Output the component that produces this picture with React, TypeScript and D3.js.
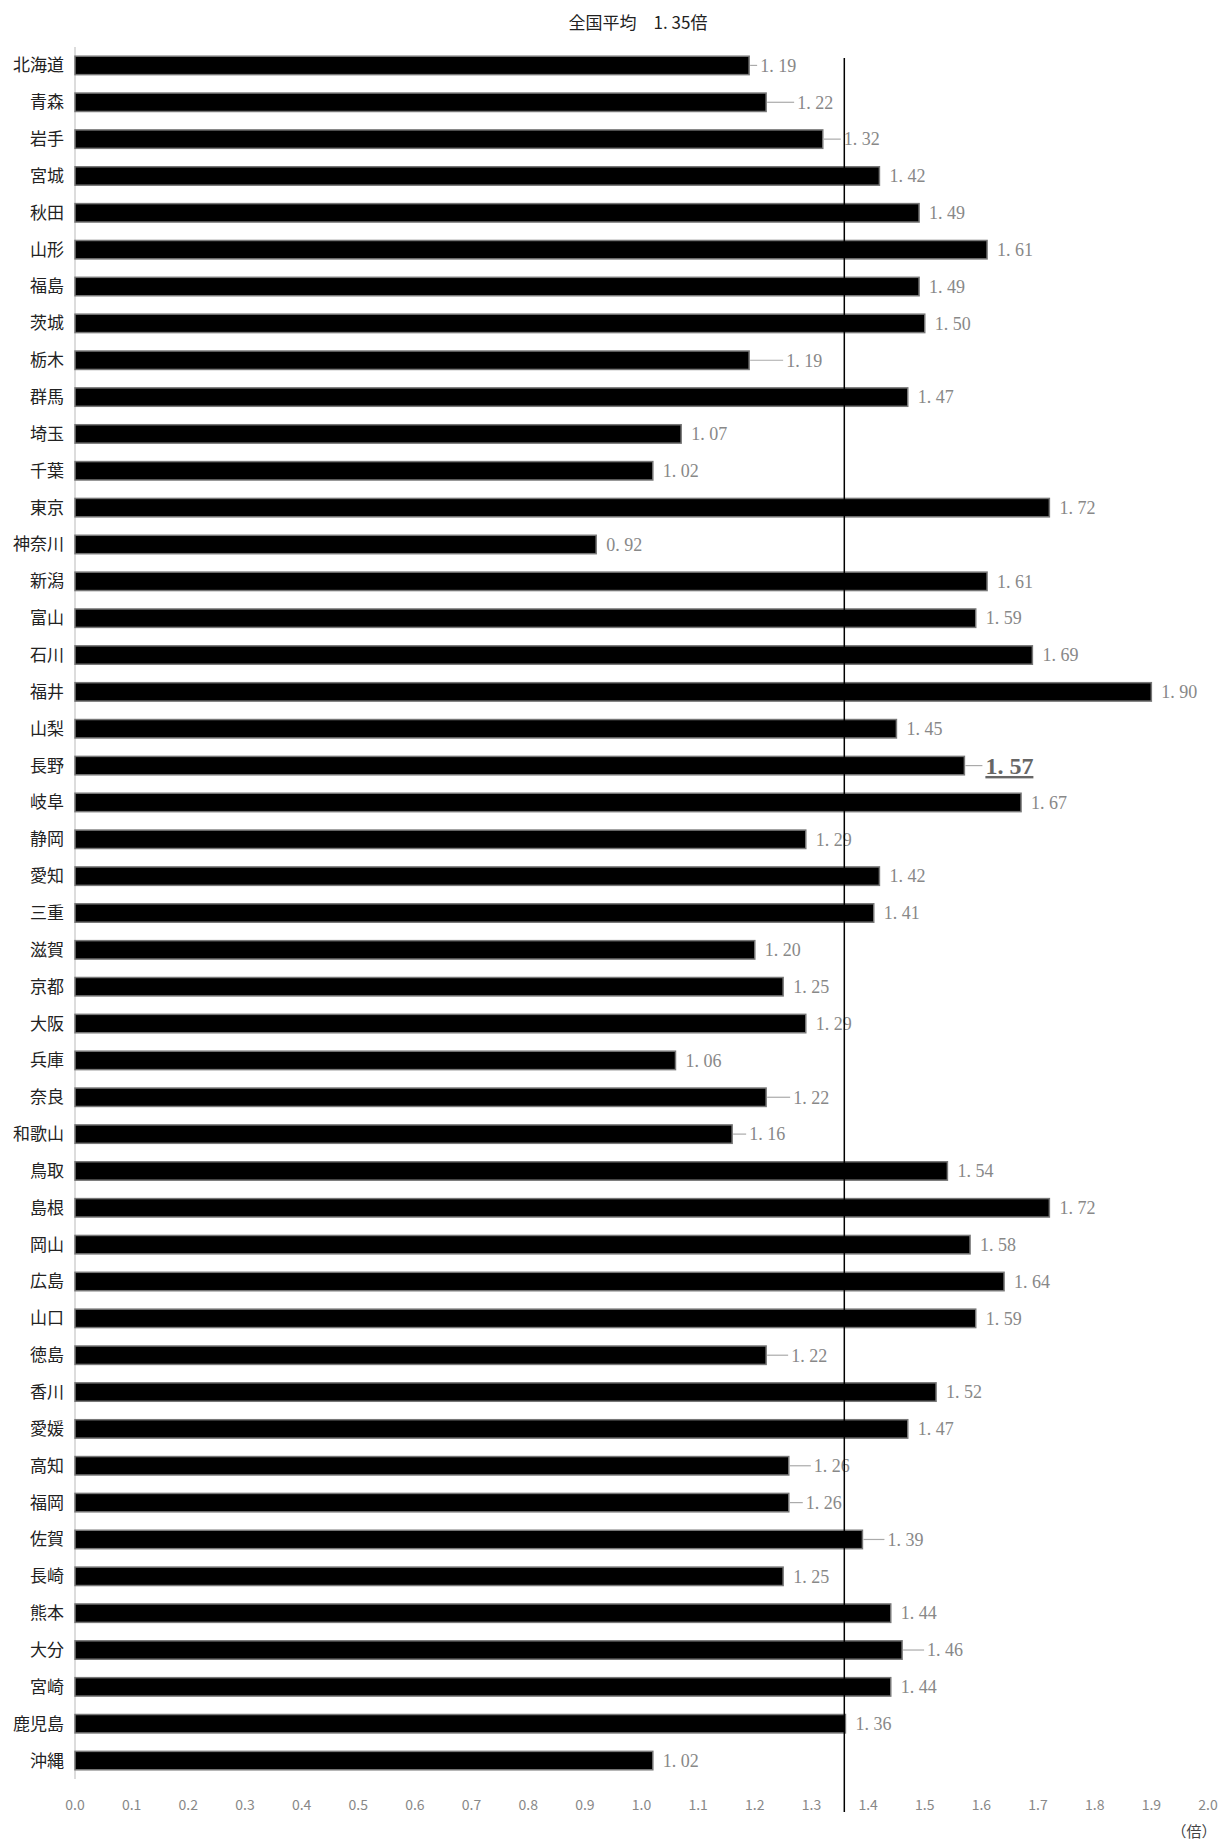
import * as d3 from 'd3';

const prefectures = ['北海道','青森','岩手','宮城','秋田','山形','福島','茨城','栃木','群馬','埼玉','千葉','東京','神奈川','新潟','富山','石川','福井','山梨','長野','岐阜','静岡','愛知','三重','滋賀','京都','大阪','兵庫','奈良','和歌山','鳥取','島根','岡山','広島','山口','徳島','香川','愛媛','高知','福岡','佐賀','長崎','熊本','大分','宮崎','鹿児島','沖縄'];
const values = [1.19,1.22,1.32,1.42,1.49,1.61,1.49,1.50,1.19,1.47,1.07,1.02,1.72,0.92,1.61,1.59,1.69,1.90,1.45,1.57,1.67,1.29,1.42,1.41,1.20,1.25,1.29,1.06,1.22,1.16,1.54,1.72,1.58,1.64,1.59,1.22,1.52,1.47,1.26,1.26,1.39,1.25,1.44,1.46,1.44,1.36,1.02];
const leaderLen: Record<string, number> = { '北海道': 8, '青森': 28, '岩手': 18, '栃木': 34, '長野': 18, '奈良': 24, '和歌山': 14, '徳島': 22, '高知': 22, '福岡': 14, '佐賀': 22, '大分': 22 };
const ticks = d3.range(0, 2.01, 0.1);
const average = 1.35;
const highlight = '長野';

export default function App() {
  const W = 1227, H = 1843;
  const x = d3.scaleLinear().domain([0, 2]).range([75, 1208]);
  const y = d3.scaleBand().domain(prefectures).range([47, 1779]).paddingInner(0.5).paddingOuter(0.25);
  const avgX = x(1.358);
  const fmt = (v: number) => v.toFixed(2).replace('.', '. ');
  return (
    <svg width={W} height={H} style={{ position: 'absolute', left: 0, top: 0, background: '#fff' }}>
      <text x={638} y={29} textAnchor="middle" fontSize={17} fontFamily="'Noto Sans CJK JP'" fill="#222">全国平均　1. 35倍</text>
      <line x1={x(0)} x2={x(0)} y1={47} y2={1779} stroke="#d0d0d0" strokeWidth={1.5} />
      {prefectures.map((p, i) => {
        const v = values[i];
        const yc = (y(p) ?? 0) + y.bandwidth() / 2;
        const lead = leaderLen[p] ?? 0;
        const isHi = p === highlight;
        return (
          <g key={p}>
            <rect x={x(0)} y={y(p)} width={x(v) - x(0)} height={y.bandwidth()} fill="#000" stroke="#777" strokeWidth={1.5} />
            <text x={64} y={yc} dy="0.35em" textAnchor="end" fontSize={17} fontFamily="'Noto Sans CJK JP'" fill="#222">{p}</text>
            {lead > 0 && <line x1={x(v) + 1} x2={x(v) + lead} y1={yc} y2={yc} stroke="#aaa" strokeWidth={1.2} />}
            <text x={x(v) + lead + (lead ? 3 : 10)} y={yc} dy="0.35em" fontSize={isHi ? 24 : 18}
              fontWeight={isHi ? 'bold' : 'normal'} textDecoration={isHi ? 'underline' : 'none'}
              fontFamily="'Liberation Serif', 'DejaVu Serif', serif" fill={isHi ? '#666' : '#888'}>{fmt(v)}</text>
          </g>
        );
      })}
      <line x1={avgX} x2={avgX} y1={58} y2={1812} stroke="#000" strokeWidth={1.5}><title>{average}</title></line>
      {ticks.map(t => (
        <text key={t} x={x(t)} y={1805} dy="0.35em" textAnchor="middle" fontSize={14}
          fontFamily="'Noto Sans CJK JP'" fill="#888">{t.toFixed(1)}</text>
      ))}
      <text x={1194} y={1837} textAnchor="middle" fontSize={15} fontFamily="'Noto Sans CJK JP'" fill="#444">（倍）</text>
    </svg>
  );
}
